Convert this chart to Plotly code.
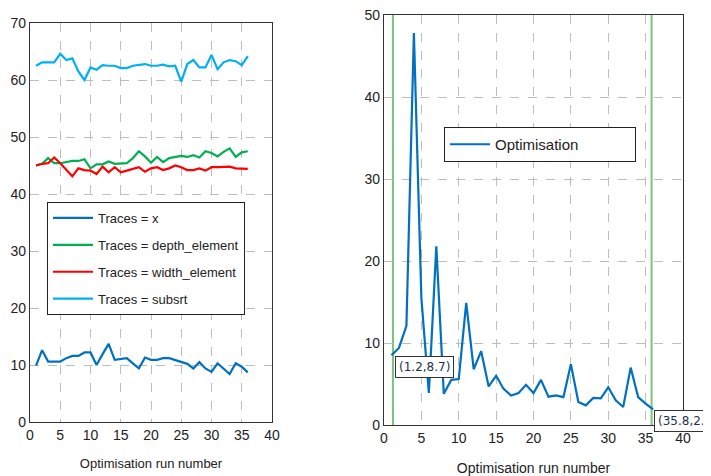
import numpy as np
import plotly.graph_objects as go

# ---------------- data ----------------
runs = list(range(1, 37))

trace_x = [9.9, 12.6, 10.6, 10.6, 10.6, 11.2, 11.6, 11.6, 12.2, 12.2, 10.0, 11.9, 13.7, 10.9,
           11.0, 11.2, 10.3, 9.4, 11.3, 10.9, 10.9, 11.2, 11.2, 10.9, 10.6, 10.2, 9.4, 10.5,
           9.4, 8.8, 10.3, 9.3, 8.4, 10.3, 9.7, 8.7]
trace_depth = [45.0, 45.3, 46.3, 45.4, 45.4, 45.6, 45.8, 45.8, 46.1, 44.5, 45.2, 45.2, 45.7, 45.3,
               45.4, 45.4, 46.3, 47.5, 46.6, 45.5, 46.5, 45.6, 46.3, 46.5, 46.7, 46.5, 46.8, 46.4,
               47.5, 47.2, 46.6, 47.4, 48.0, 46.5, 47.3, 47.5]
trace_width = [45.0, 45.3, 45.4, 46.4, 45.4, 44.2, 43.1, 44.5, 44.2, 44.1, 43.5, 44.8, 43.8, 44.7,
               43.8, 44.1, 44.4, 44.7, 43.9, 44.5, 44.7, 44.2, 44.5, 45.0, 44.7, 44.2, 44.2, 44.5,
               44.1, 44.7, 44.7, 44.8, 44.8, 44.5, 44.5, 44.4]
trace_subsrt = [62.5, 63.1, 63.1, 63.1, 64.6, 63.5, 63.8, 61.5, 60.0, 62.2, 61.8, 62.6, 62.5, 62.5,
                62.1, 62.1, 62.5, 62.7, 62.8, 62.5, 62.5, 62.7, 62.4, 62.5, 59.7, 62.8, 63.5, 62.2,
                62.2, 64.4, 61.9, 63.1, 63.5, 63.3, 62.6, 64.2]

optimisation = [8.5, 9.4, 12.1, 47.8, 15.5, 3.9, 21.8, 3.8, 5.5, 5.6, 14.9, 6.8, 9.0, 4.7,
                6.0, 4.4, 3.6, 3.9, 4.9, 3.9, 5.5, 3.45, 3.6, 3.4, 7.4, 2.8, 2.4, 3.3,
                3.25, 4.6, 3.0, 2.2, 7.0, 3.4, 2.6, 1.9]

cursors = [1.2, 35.8]

left_series = [
    ("Traces = x", trace_x, "#0070C0"),
    ("Traces = depth_element", trace_depth, "#00B050"),
    ("Traces = width_element", trace_width, "#FF0000"),
    ("Traces = subsrt", trace_subsrt, "#00B0F0"),
]

x_ticks = [0, 5, 10, 15, 20, 25, 30, 35, 40]
left_y_ticks = [0, 10, 20, 30, 40, 50, 60, 70]
right_y_ticks = [0, 10, 20, 30, 40, 50]

# ---------------- figure ----------------
OFF = 8  # page body margin
W, H = 711 - OFF, 476 - OFF
FONT = "Liberation Sans, Arial, sans-serif"
fig = go.Figure()

for i, (name, vals, col) in enumerate(left_series):
    fig.add_trace(go.Scatter(x=runs, y=vals, mode="lines", name=name,
                             line=dict(color=col, width=2.2),
                             xaxis="x", yaxis="y", legend="legend",
                             legendgroup="g%d" % i))

fig.add_trace(go.Scatter(x=runs, y=optimisation, mode="lines", name="Optimisation",
                         line=dict(color="#0070C0", width=2.2),
                         xaxis="x2", yaxis="y2", legend="legend2"))

grid = dict(showgrid=True, gridcolor="#BDBDBD", griddash="dash", gridwidth=1,
            zeroline=False, showline=True, linecolor="#333333", linewidth=1.3,
            mirror=True, ticks="", automargin=False, ticklabeloverflow="allow",
            tickfont=dict(family=FONT, size=14, color="#222"))

def px(xp):
    return (xp - OFF) / W

def py(yp):
    return 1 - (yp - OFF) / H

fig.update_layout(
    width=W, height=H,
    margin=dict(l=0, r=0, t=0, b=0),
    paper_bgcolor="white", plot_bgcolor="white",
    font=dict(family=FONT, size=12, color="#222"),
    xaxis=dict(domain=[px(30), px(272)], range=[0, 40], tickvals=x_ticks,
               title=dict(text="Optimisation run number", font=dict(size=13), standoff=16),
               anchor="y", **grid),
    yaxis=dict(domain=[py(422), py(23)], range=[0, 70], tickvals=left_y_ticks,
               anchor="x", **grid),
    xaxis2=dict(domain=[px(384), px(683)], range=[0, 40], tickvals=x_ticks,
                title=dict(text="Optimisation run number", font=dict(size=14), standoff=18),
                anchor="y2", **grid),
    yaxis2=dict(domain=[py(425), py(15)], range=[0, 50], tickvals=right_y_ticks,
                anchor="x2", **grid),
    legend=dict(x=px(47), y=py(202), xanchor="left", yanchor="top",
                bgcolor="white", bordercolor="#222", borderwidth=1,
                font=dict(family=FONT, size=13, color="#222"),
                tracegroupgap=7, itemwidth=40),
    legend2=dict(x=px(444), y=py(127), xanchor="left", yanchor="top",
                 orientation="h", entrywidth=135,
                 bgcolor="white", bordercolor="#222", borderwidth=1,
                 font=dict(family=FONT, size=15, color="#222"), itemwidth=40),
    showlegend=True,
)

# cursor lines and readouts on the right chart
for k, cx in enumerate(cursors):
    fig.add_shape(type="line", xref="x2", yref="y2 domain", x0=cx, x1=cx, y0=0, y1=1,
                  line=dict(color="#7CC47C", width=2), layer="below")
    cy = float(np.interp(cx, runs, optimisation))
    fig.add_annotation(xref="x2", yref="y2", x=cx, y=cy,
                       text="(%.1f,%.1f)" % (cx, cy), showarrow=False,
                       xanchor="left", yanchor="top", xshift=2, yshift=-2,
                       font=dict(family="DejaVu Sans, sans-serif", size=12, color="#1F2F4F"),
                       bgcolor="white", bordercolor="#333", borderwidth=1, borderpad=3)

fig.write_html("out.html")
